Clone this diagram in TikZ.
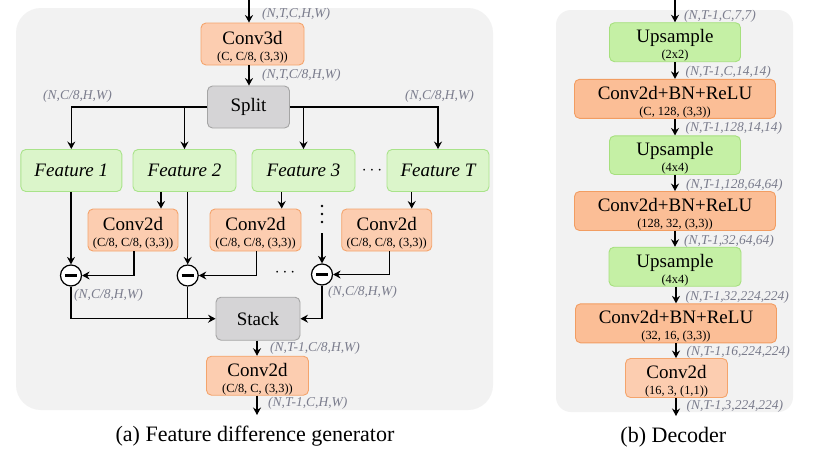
\documentclass[tikz,border=0pt]{standalone}
\usepackage{fontspec}
\setmainfont{Liberation Serif}
\usetikzlibrary{arrows.meta}
\definecolor{bgc}{HTML}{F2F2F2}
\definecolor{orLf}{HTML}{FCCDB0}
\definecolor{orLd}{HTML}{F4A46C}
\definecolor{orDf}{HTML}{FBBE96}
\definecolor{orDd}{HTML}{F29D62}
\definecolor{grLf}{HTML}{DBF5CA}
\definecolor{grLd}{HTML}{A9E38A}
\definecolor{grDf}{HTML}{C5F0A5}
\definecolor{grDd}{HTML}{A6E07E}
\definecolor{gyf}{HTML}{D5D4D6}
\definecolor{gyd}{HTML}{A5A5A5}
\definecolor{dimc}{RGB}{122,124,140}
\newcommand\mfnt{\fontsize{19}{21}\selectfont}
\newcommand\subfnt{\fontsize{12.4}{16}\selectfont}
\newcommand\dimfnt{\fontsize{13.5}{15}\selectfont\itshape}
\newcommand\capfnt{\fontsize{22}{24}\selectfont}
\newcommand\twol[2]{{\mfnt\rule{0pt}{20pt}#1}\\#2}
\tikzset{
  box/.style={rounded corners=5pt, line width=0.9pt, inner sep=0pt, align=center, font=\subfnt},
  sz/.style 2 args={minimum width=#1pt, minimum height=#2pt},
  orL/.style={box, fill=orLf, draw=orLd},
  orD/.style={box, fill=orDf, draw=orDd},
  grL/.style={box, fill=grLf, draw=grLd, font=\mfnt\itshape},
  grD/.style={box, fill=grDf, draw=grDd},
  gyb/.style={box, fill=gyf, draw=gyd, font=\mfnt},
  minusc/.style={circle, draw=black, fill=white, line width=1.2pt, minimum size=21pt, inner sep=0pt,
     path picture={\draw[line width=2.6pt] ([xshift=-6pt]path picture bounding box.center) -- ([xshift=6pt]path picture bounding box.center);}},
  arr/.style={-{Stealth[length=7.5pt,width=8pt,inset=2.5pt]}, line width=1.2pt},
  ln/.style={line width=1.2pt},
  dimlbl/.style={font=\dimfnt, text=dimc, inner sep=0pt, anchor=west},
  dotsn/.style={font=\mfnt, inner sep=0pt},
  dotc/.style={circle, fill=black, inner sep=0pt, minimum size=2.6pt},
  captxt/.style={font=\capfnt, inner sep=0pt}
}
\begin{document}
\begin{tikzpicture}[x=1pt,y=-1pt]
\useasboundingbox (0,0) rectangle (816,456);
\fill[white] (0,0) rectangle (816,456);
\fill[bgc, rounded corners=25pt] (16,8) rectangle (493,410);
\fill[bgc, rounded corners=15pt] (556,10) rectangle (793,412);

% ---------- (a) ----------
\coordinate (in0) at (249,0);
\node[orL, sz={103}{42}] (conv3d) at (252.5,44) {\twol{Conv3d}{(C, C/8, (3,3))}};
\node[gyb, sz={82}{42}] (split) at (248.5,107) {Split};
\node[grL, sz={101}{42}] (f1) at (71.3,170.5) {Feature 1};
\node[grL, sz={103}{42}] (f2) at (184.5,170.5) {Feature 2};
\node[grL, sz={103}{42}] (f3) at (303.5,170.5) {Feature 3};
\node[grL, sz={102}{42}] (fT) at (438,170.5) {Feature T};
\node[dotsn] (hd1) at (372,171) {$\cdots$};
\node[orL, sz={90}{42}] (ca) at (133,230) {\twol{Conv2d}{(C/8, C/8, (3,3))}};
\node[orL, sz={91}{42}] (cb) at (255.5,230) {\twol{Conv2d}{(C/8, C/8, (3,3))}};
\node[orL, sz={90}{42}] (cc) at (386.7,230) {\twol{Conv2d}{(C/8, C/8, (3,3))}};
\node[dotc] (vd1) at (322,206) {};
\node[dotc] (vd2) at (322,214) {};
\node[dotc] (vd3) at (322,222) {};
\coordinate (vds) at (322,233);
\node[minusc] (m1) at (71,275.5) {};
\node[minusc] (m2) at (187.7,275.5) {};
\node[minusc] (m3) at (322,274.5) {};
\node[dotsn] (hd2) at (285,273) {$\cdots$};
\node[gyb, sz={84}{43}] (stack) at (258,318.7) {Stack};
\node[orL, sz={102}{39}] (cbot) at (257.5,375.7) {\twol{Conv2d}{(C/8, C, (3,3))}};
\coordinate (outa) at (257,415);

\node[dimlbl] (la1) at (262,14) {(N,T,C,H,W)};
\node[dimlbl] (la2) at (262,75) {(N,T,C/8,H,W)};
\node[dimlbl] (la3) at (43,96) {(N,C/8,H,W)};
\node[dimlbl] (la4) at (405,96) {(N,C/8,H,W)};
\node[dimlbl] (la5) at (74,295) {(N,C/8,H,W)};
\node[dimlbl] (la6) at (328,292) {(N,C/8,H,W)};
\node[dimlbl] (la7) at (270,348) {(N,T-1,C/8,H,W)};
\node[dimlbl] (la8) at (268,403) {(N,T-1,C,H,W)};
\node[captxt] (capa) at (255,436) {(a) Feature difference generator};

\draw[arr] (in0) -- (in0 |- conv3d.north);
\draw[arr] (in0 |- conv3d.south) -- (in0 |- split.north);
\draw[arr] (split.west) -| (f1.north);
\draw[arr] (split.west -| f2.north) -- (f2.north);
\draw[arr] (split.east) -| (fT.north);
\draw[arr] (split.east -| f3.north) -- (f3.north);
\draw[arr] (f1.south -| m1) -- (m1.north);
\draw[arr] ([xshift=-23.5pt]f2.south) -- ([xshift=-23.5pt]f2.south |- ca.north);
\draw[arr] (f2.south -| m2) -- (m2.north);
\draw[arr] ([xshift=-21.8pt]f3.south) -- ([xshift=-21.8pt]f3.south |- cb.north);
\draw[arr] ([xshift=-26.3pt]fT.south) -- ([xshift=-26.3pt]fT.south |- cc.north);
\draw[arr] ([xshift=1pt]ca.south) |- (m1.east);
\draw[arr] ([xshift=1.2pt]cb.south) |- (m2.east);
\draw[arr] ([xshift=2.6pt]cc.south) |- (m3.east);
\draw[arr] (vds) -- (m3.north);
\draw[arr] (m1.south) |- (stack.west);
\draw[ln] (m2.south) -- (m2.south |- stack.west);
\draw[arr] (m3.south) |- (stack.east);
\draw[arr] (stack.south -| outa) -- (cbot.north -| outa);
\draw[arr] (cbot.south -| outa) -- (outa);

% ---------- (b) ----------
\coordinate (inb) at (675,0);
\node[grD, sz={131}{39}] (u1) at (675,42.2) {\twol{Upsample}{(2x2)}};
\node[orD, sz={201}{39}] (b1) at (675,98.8) {\twol{Conv2d+BN+ReLU}{(C, 128, (3,3))}};
\node[grD, sz={131}{38}] (u2) at (675,155.2) {\twol{Upsample}{(4x4)}};
\node[orD, sz={201}{39}] (b2) at (675,211) {\twol{Conv2d+BN+ReLU}{(128, 32, (3,3))}};
\node[grD, sz={132}{39}] (u3) at (675,266.7) {\twol{Upsample}{(4x4)}};
\node[orD, sz={201}{39}] (b3) at (676,323.3) {\twol{Conv2d+BN+ReLU}{(32, 16, (3,3))}};
\node[orL, sz={102}{39}] (cd) at (676.5,378) {\twol{Conv2d}{(16, 3, (1,1))}};
\coordinate (outb) at (676,416);

\node[dimlbl] (lb1) at (684,16) {(N,T-1,C,7,7)};
\node[dimlbl] (lb2) at (685.5,72) {(N,T-1,C,14,14)};
\node[dimlbl] (lb3) at (685.5,128) {(N,T-1,128,14,14)};
\node[dimlbl] (lb4) at (686,185) {(N,T-1,128,64,64)};
\node[dimlbl] (lb5) at (684,241) {(N,T-1,32,64,64)};
\node[dimlbl] (lb6) at (685.5,297) {(N,T-1,32,224,224)};
\node[dimlbl] (lb7) at (686.5,352) {(N,T-1,16,224,224)};
\node[dimlbl] (lb8) at (686.5,406) {(N,T-1,3,224,224)};
\node[captxt] (capb) at (673.3,437) {(b) Decoder};

\draw[arr] (inb) -- (inb |- u1.north);
\draw[arr] (u1.south -| inb) -- (b1.north -| inb);
\draw[arr] (b1.south -| inb) -- (u2.north -| inb);
\draw[arr] (u2.south -| inb) -- (b2.north -| inb);
\draw[arr] (b2.south -| inb) -- (u3.north -| inb);
\draw[arr] (u3.south -| outb) -- (b3.north -| outb);
\draw[arr] (b3.south -| outb) -- (cd.north -| outb);
\draw[arr] (cd.south -| outb) -- (outb);
\end{tikzpicture}
\end{document}
